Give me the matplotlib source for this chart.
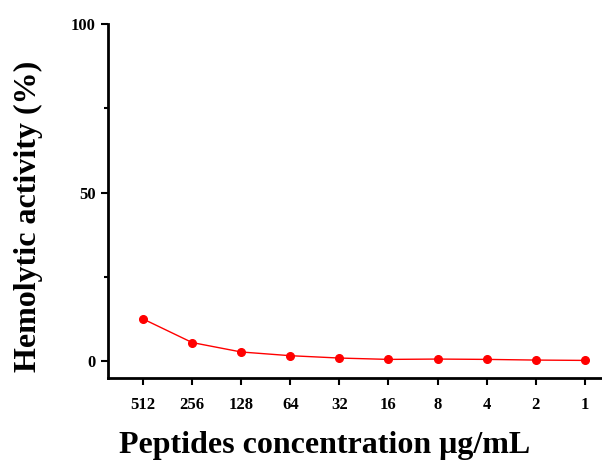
import numpy as np
import matplotlib
matplotlib.use("Agg")
from matplotlib import pyplot as plt
from matplotlib.ticker import MultipleLocator

concentrations = ["512", "256", "128", "64", "32", "16", "8", "4", "2", "1"]
hemolysis = [12.5, 5.5, 2.7, 1.6, 0.9, 0.5, 0.6, 0.5, 0.3, 0.2]

plt.rcParams["font.family"] = ["Liberation Serif", "DejaVu Serif"]
plt.rcParams["font.weight"] = "bold"

fig = plt.figure(figsize=(6.02, 4.66), dpi=100)
ax = fig.add_axes([0.179, 0.189, 0.821, 0.759])

x = np.arange(len(concentrations))
ax.plot(x, hemolysis, color="red", lw=1, marker="o", ms=5.5, mec="red", mfc="red")

ax.set_xlim(-0.72, 9.35)
ax.set_ylim(-5, 100)
ax.set_xticks(x, concentrations)
ax.set_yticks([0, 50, 100])
ax.yaxis.set_minor_locator(MultipleLocator(25))
ax.tick_params(axis="both", labelsize=12, width=1.5, length=5, direction="out")
ax.tick_params(axis="x", pad=9)
ax.tick_params(axis="y", which="minor", width=1.5, length=3)
for lab in ax.get_xticklabels() + ax.get_yticklabels():
    lab.set_fontweight("bold")

for side in ["top", "right"]:
    ax.spines[side].set_visible(False)
for side in ["left", "bottom"]:
    ax.spines[side].set_linewidth(2)

fig.text(325 / 602, 1 - 446 / 466, "Peptides concentration \u03bcg/mL",
         ha="center", va="center", fontsize=23, fontweight="bold")
fig.text(28 / 602, 1 - 216 / 466, "Hemolytic activity (%)", rotation=90,
         ha="center", va="center", fontsize=23, fontweight="bold")

fig.savefig("out.png", dpi=100)
